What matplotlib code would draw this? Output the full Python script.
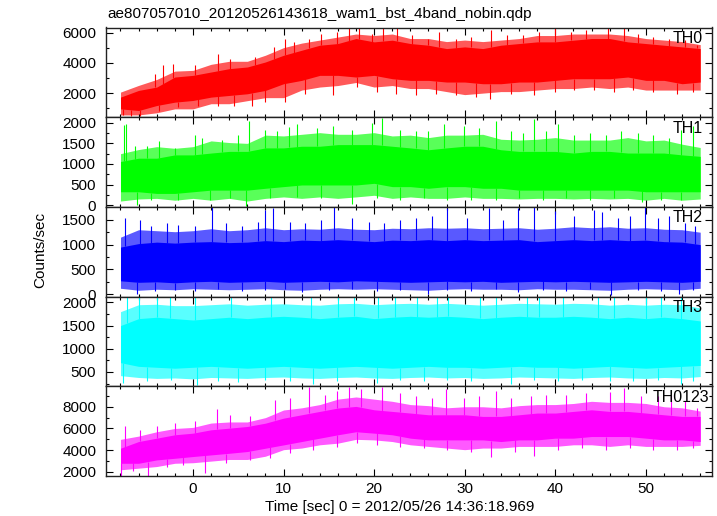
import matplotlib
matplotlib.use("Agg")
import matplotlib.pyplot as plt
from matplotlib.ticker import MultipleLocator
import numpy as np

plt.rcParams['font.family'] = ['Liberation Sans', 'DejaVu Sans']

title = "ae807057010_20120526143618_wam1_bst_4band_nobin.qdp"
xlabel = "Time [sec] 0 = 2012/05/26 14:36:18.969"
ylabel = "Counts/sec"

# envelope samples every 2 s
t = list(range(-8, 57, 2))

names = ["TH0", "TH1", "TH2", "TH3", "TH0123"]
colors = ["#ff0000", "#00ff00", "#0000ff", "#00ffff", "#ff00ff"]
ylims = [(410, 6330), (-42, 2135), (-48, 1760), (190, 2125), (1630, 9880)]
majors = [2000, 500, 500, 500, 2000]

# TH0
th0_core_hi = [1735, 2177, 2398, 3061, 3171, 3392, 3613, 3724, 4055, 4497, 4829, 5160, 5271, 5602, 5381, 5492, 5271,
               5160, 4939, 5050, 4939, 5160, 5271, 5381, 5381, 5492, 5602, 5602, 5381, 5271, 5160, 5050, 4939]
th0_core_lo = [960, 850, 1182, 1403, 1514, 1735, 1845, 1956, 2177, 2619, 2840, 3171, 3171, 3061, 3171, 2950, 2840,
               2840, 2730, 2730, 2619, 2619, 2730, 2730, 2840, 2950, 2950, 2950, 3061, 2840, 2840, 2619, 2730]
th0_out_hi = [2066, 2508, 2900, 3450, 3500, 3900, 4100, 4100, 4500, 5000, 5300, 5500, 5700, 5900, 5800, 5900, 5600,
              5600, 5400, 5500, 5400, 5500, 5600, 5800, 5800, 5900, 5900, 5900, 5800, 5600, 5500, 5400, 5200]
th0_out_lo = [560, 560, 700, 960, 960, 1300, 1300, 1500, 1700, 1700, 2200, 2400, 2500, 2700, 2400, 2500, 2300,
              2300, 2100, 1900, 2000, 2100, 2100, 2200, 2300, 2300, 2400, 2300, 2400, 2200, 2200, 2200, 2200]
th0_spike_t = [-4.2, -3.3, -2.2, 0.2, 2.8, 4.1, 6.9, 8.9, 10.2, 11.1, 12.8, 14.1, 15.9, 17.2, 18.3, 19.8, 21.0,
               22.5, 24.2, 25.9, 27.2, 29.0, 30.7, 32.9, 34.7, 36.4, 38.2, 40.0, 41.7, 43.4, 45.8, 47.6, 49.1,
               50.8, 52.6, 54.3, 55.6,
               -7.7, -6.8, -5.9, -3.8, -1.6, 0.6, 2.8, 4.5, 6.5, 8.0, 10.2, 12.4, 15.5, 18.1, 20.3, 22.4, 24.6,
               26.8, 29.0, 31.2, 32.8, 35.1, 37.7, 40.0, 42.1, 44.3, 46.5, 48.6, 50.8, 53.4, 55.2]
th0_spike_v = [3282, 3834, 3945, 3834, 4608, 4276, 4387, 5050, 5602, 5381, 5602, 5934, 6045, 6370, 6310, 5934, 6310,
               6370, 5823, 5602, 6045, 5602, 5713, 6155, 5823, 5823, 6045, 6370, 6045, 6155, 6265, 6310, 5934,
               5713, 5602, 5492, 5160,
               560, 520, 475, 850, 1072, 1182, 1182, 1182, 1182, 1403, 1403, 1956, 1845, 2398, 2066, 1956, 1845,
               1956, 1845, 1735, 1580, 1956, 1845, 2066, 2177, 2177, 2066, 2177, 2066, 1956, 2066]

# TH1
th1_core_hi = [1060, 1140, 1140, 1220, 1220, 1265, 1305, 1305, 1390, 1390, 1430, 1430, 1470, 1470, 1470, 1430, 1390,
               1345, 1390, 1430, 1430, 1345, 1305, 1305, 1305, 1265, 1305, 1305, 1265, 1265, 1265, 1220, 1185]
th1_core_lo = [325, 325, 285, 285, 325, 365, 365, 365, 410, 450, 490, 490, 490, 490, 530, 450, 450,
               410, 450, 450, 410, 410, 365, 365, 365, 365, 365, 365, 365, 325, 325, 325, 325]
th1_out_hi = [1250, 1350, 1420, 1380, 1420, 1560, 1520, 1500, 1700, 1680, 1720, 1760, 1720, 1720, 1760, 1680, 1700,
              1640, 1700, 1700, 1720, 1600, 1580, 1600, 1640, 1580, 1580, 1580, 1640, 1560, 1580, 1480, 1400]
th1_out_lo = [100, 150, 165, 120, 165, 120, 165, 100, 165, 200, 165, 200, 165, 200, 240, 165, 200,
              165, 165, 200, 165, 165, 150, 165, 165, 150, 165, 150, 165, 120, 165, 120, 150]
th1_spike_t = [-7.6, -7.4, -6.4, -5.1, -3.8, -2.0, 0.2, 1.0, 3.2, 5.0, 6.2, 8.0, 9.3, 10.6, 11.5, 13.7, 15.5,
               17.6, 19.8, 20.9, 22.9, 24.6, 25.9, 27.7, 29.9, 31.6, 33.4, 35.1, 36.4, 37.6, 39.0, 40.3, 42.1,
               43.8, 45.6, 47.3, 49.1, 50.8, 52.6, 53.9, 55.2,
               -6.2, -4.6, -1.6, 1.9, 4.1, 5.9, 8.5, 11.5, 14.1, 17.6, 20.3, 22.9, 25.5, 28.1, 30.7, 33.4,
               36.0, 38.6, 41.2, 43.8, 46.5, 49.6, 51.7, 53.9]
th1_spike_v = [1950, 1975, 1430, 1430, 1550, 1390, 1710, 1630, 1590, 1710, 2040, 1835, 1795, 1890, 1960, 1880, 1920,
               1835, 2000, 2120, 1835, 1795, 1795, 1960, 1920, 1880, 2040, 1795, 1755, 2080, 1795, 1960, 1710,
               1755, 1710, 1795, 1755, 1710, 1630, 1835, 1920,
               0, 120, 120, 120, 165, -15, 165, 205, 165, 40, 165, 120, 165, 120, 120, 120,
               165, 120, 165, 120, 165, 65, 120, 120]

# TH2
th2_core_hi = [950, 1020, 1050, 1030, 1050, 1060, 1040, 1050, 1080, 1060, 1090, 1080, 1100, 1080, 1060, 1090, 1080,
               1100, 1080, 1100, 1080, 1090, 1100, 1060, 1080, 1100, 1080, 1100, 1080, 1090, 1060, 1050, 1000]
th2_core_lo = [270, 240, 250, 230, 250, 260, 240, 250, 260, 240, 250, 260, 250, 270, 260, 250, 240,
               250, 260, 250, 260, 240, 250, 260, 250, 260, 250, 240, 250, 260, 250, 240, 260]
th2_out_hi = [1150, 1300, 1280, 1260, 1280, 1320, 1280, 1300, 1340, 1300, 1320, 1310, 1340, 1310, 1300, 1330, 1320,
              1340, 1330, 1340, 1320, 1330, 1340, 1310, 1330, 1360, 1340, 1360, 1330, 1340, 1310, 1300, 1250]
th2_out_lo = [120, 80, 100, 90, 110, 100, 90, 100, 110, 90, 80, 100, 110, 100, 110, 100, 90,
              80, 100, 110, 100, 100, 90, 110, 100, 100, 90, 80, 100, 110, 100, 90, 120]
th2_spike_t = [-7.5, -5.9, -4.6, -2.9, -1.6, 0.2, 2.05, 3.7, 5.4, 7.2, 8.0, 8.8, 10.7, 12.4, 14.1, 15.6, 17.6,
               19.4, 21.1, 22.9, 24.6, 26.4, 28.1, 30.3, 32.7, 34.2, 35.9, 37.7, 40.0, 42.1, 44.3, 45.2, 46.9,
               48.2, 49.9, 51.3, 52.6, 54.3, 55.4,
               -6.2, -4.2, -2.0, 0.2, 2.8, 5.4, 8.0, 10.2, 12.0, 15.0, 17.6, 20.3, 22.9, 25.9, 28.1, 30.7,
               33.4, 35.9, 38.6, 41.2, 43.8, 46.2, 49.1, 51.7, 53.7, 55.2]
th2_spike_v = [1535, 1500, 1365, 1430, 1400, 1365, 1760, 1430, 1365, 1465, 1690, 1740, 1465, 1430, 1500, 1760, 1535,
               1465, 1430, 1500, 1535, 1570, 1740, 1535, 1740, 1500, 1740, 1760, 1670, 1570, 1705, 1650, 1535,
               1570, 1760, 1535, 1570, 1430, 1365,
               14, 68, 82, 55, 102, 68, 82, 102, 35, 82, 102, 68, 82, 0, 82, 55,
               102, 35, 82, 68, 102, -14, 82, 68, 14, 82]

# TH3
th3_core_hi = [1500, 1650, 1680, 1650, 1620, 1650, 1680, 1650, 1680, 1700, 1680, 1650, 1680, 1700, 1650, 1680, 1700,
               1680, 1700, 1680, 1650, 1680, 1700, 1680, 1680, 1700, 1680, 1650, 1680, 1650, 1680, 1650, 1600]
th3_core_lo = [700, 620, 600, 580, 600, 620, 600, 580, 600, 620, 600, 580, 600, 620, 600, 580, 600,
               620, 600, 600, 580, 600, 620, 600, 600, 580, 600, 620, 600, 580, 600, 620, 640]
th3_out_hi = [1800, 1950, 1960, 1930, 1930, 1950, 1970, 1940, 1960, 1970, 1950, 1940, 1970, 1980, 1950, 1970, 1980,
              1960, 1980, 1960, 1940, 1960, 1980, 1970, 1960, 1980, 1970, 1940, 1960, 1940, 1960, 1950, 1880]
th3_out_lo = [420, 380, 360, 370, 350, 380, 370, 360, 380, 390, 370, 360, 380, 390, 370, 360, 380,
              390, 370, 380, 360, 370, 390, 380, 370, 360, 380, 390, 370, 360, 380, 370, 400]
th3_spike_t = [-7.3, -6.0, -4.0, -2.5, 0.2, 4.2, 8.6, 13.0, 16.0, 17.8, 20.4, 22.3, 24.7, 26.9, 28.2, 31.7,
               33.4, 36.9, 38.2, 40.8, 44.7, 46.5, 50.0, 51.7, 53.9,
               -7.7, -5.1, -2.4, 0.4, 2.8, 5.0, 8.0, 10.7, 13.3, 15.9, 20.3, 22.9, 25.5, 28.1, 30.7, 35.1,
               37.7, 40.3, 43.0, 46.0, 48.6, 51.3, 53.9, 55.2]
th3_spike_v = [2200] * 25 + [265, 294, 336, 210, 315, 280, 336, 294, 240, 315, 270, 336, 294, 336, 294, 250,
                             336, 294, 336, 294, 315, 336, 240, 315]

# TH0123
th0123_core_hi = [4185, 4800, 5110, 5420, 5570, 5880, 6030, 6185, 6490, 6950, 7260, 7570, 7880, 8030, 7720, 7570, 7420,
                  7260, 7260, 7260, 7110, 7110, 7260, 7420, 7420, 7570, 7720, 7570, 7570, 7420, 7260, 7110, 7110]
th0123_core_lo = [2800, 2800, 3110, 3260, 3420, 3570, 3720, 3880, 4185, 4490, 4800, 5110, 5420, 5700, 5570, 5420, 5110,
                  4950, 4950, 4950, 4950, 4800, 4950, 4950, 5110, 5110, 5260, 5260, 5260, 5110, 4950, 4950, 4800]
th0123_out_hi = [5000, 5300, 5700, 6000, 6100, 6500, 6600, 6600, 7000, 7700, 7900, 8200, 8700, 8900, 8700, 8500, 8200,
                 8100, 7900, 8000, 8000, 7900, 8100, 8200, 8200, 8300, 8500, 8400, 8400, 8300, 8000, 7900, 7600]
th0123_out_lo = [2200, 2350, 2500, 2800, 2850, 3000, 3150, 3150, 3450, 4050, 4200, 4500, 4650, 5000, 4950, 4800, 4500,
                 4350, 4200, 4050, 4200, 4200, 4350, 4350, 4350, 4500, 4500, 4350, 4500, 4350, 4350, 4350, 4450]
th0123_spike_t = [-7.5, -5.9, -4.0, -2.0, 0.2, 2.6, 4.1, 6.3, 9.1, 10.7, 12.8, 14.6, 15.9, 17.2, 18.5, 20.9, 22.9,
                  24.6, 26.4, 27.9, 29.9, 31.6, 33.4, 35.1, 37.3, 39.0, 41.2, 43.4, 46.0, 47.6, 49.5, 51.3, 52.8,
                  54.3, 55.6,
                  -7.9, -6.6, -5.0, -2.9, -1.1, 1.3, 3.7, 6.3, 8.5, 10.7, 13.3, 15.9, 18.1, 20.3, 22.9, 25.5,
                  28.1, 30.7, 32.9, 35.5, 37.7, 40.3, 43.0, 45.6, 48.2, 50.8, 53.4, 55.2]
th0123_spike_v = [6185, 5880, 6185, 6490, 6650, 7785, 7260, 7110, 8650, 8800, 9815, 9110, 9415, 9815, 9630, 9815, 9260,
                  8950, 8800, 9630, 8800, 8950, 9415, 8800, 8950, 9110, 9110, 9260, 9320, 9720, 8950, 8950, 9110,
                  8490, 7880,
                  1630, 2120, 1570, 2490, 2650, 1940, 2860, 3110, 3260, 3720, 4030, 4340, 4650, 4490, 4340, 4185,
                  4030, 3880, 3350, 3880, 3500, 4030, 4185, 4030, 4185, 4030, 4030, 4185]

series = [
    (th0_out_lo, th0_out_hi, th0_core_lo, th0_core_hi, th0_spike_t, th0_spike_v),
    (th1_out_lo, th1_out_hi, th1_core_lo, th1_core_hi, th1_spike_t, th1_spike_v),
    (th2_out_lo, th2_out_hi, th2_core_lo, th2_core_hi, th2_spike_t, th2_spike_v),
    (th3_out_lo, th3_out_hi, th3_core_lo, th3_core_hi, th3_spike_t, th3_spike_v),
    (th0123_out_lo, th0123_out_hi, th0123_core_lo, th0123_core_hi, th0123_spike_t, th0123_spike_v),
]

fig = plt.figure(figsize=(7.17, 5.16), dpi=100)
gs = fig.add_gridspec(5, 1, left=106 / 717, right=712 / 717, top=1 - 27.5 / 516, bottom=1 - 476 / 516, hspace=0)

for i in range(5):
    ax = fig.add_subplot(gs[i])
    out_lo, out_hi, core_lo, core_hi, sp_t, sp_v = series[i]
    c = colors[i]
    ax.fill_between(t, out_lo, out_hi, color=c, alpha=0.65, lw=0)
    ax.fill_between(t, core_lo, core_hi, color=c, lw=0)
    # spikes start from the nearer core edge
    hi_at = np.interp(sp_t, t, core_hi)
    lo_at = np.interp(sp_t, t, core_lo)
    base = np.where(np.array(sp_v) > hi_at, hi_at, lo_at)
    ax.vlines(sp_t, base, sp_v, color=c, lw=0.8)

    ax.set_xlim(-9.6, 57.3)
    ax.set_ylim(*ylims[i])
    ax.xaxis.set_major_locator(MultipleLocator(10))
    ax.xaxis.set_minor_locator(MultipleLocator(2))
    ax.yaxis.set_major_locator(MultipleLocator(majors[i]))
    ax.yaxis.set_minor_locator(MultipleLocator(majors[i] / 2))
    ax.tick_params(which='both', direction='in', top=True, right=True, labelsize=11, colors='black')
    ax.tick_params(which='major', length=5, width=0.8, pad=7)
    ax.tick_params(axis='x', which='major', pad=4)
    ax.tick_params(which='minor', length=2.5, width=0.8)
    for s in ax.spines.values():
        s.set_linewidth(1.0)
        s.set_color('#222222')
    if i < 4:
        ax.tick_params(labelbottom=False)
    ax.text(0.985 if i < 4 else 0.995, 0.96, names[i], transform=ax.transAxes,
            ha='right', va='top', fontsize=11.5)

fig.text(107 / 717, 1 - 14 / 516, title, ha='left', va='center', fontsize=11)
fig.text(40 / 717, 1 - 250 / 516, ylabel, rotation=90, ha='center', va='center', fontsize=11)
fig.text(400 / 717, 1 - 507 / 516, xlabel, ha='center', va='center', fontsize=11)

fig.savefig("out.png", dpi=100)
